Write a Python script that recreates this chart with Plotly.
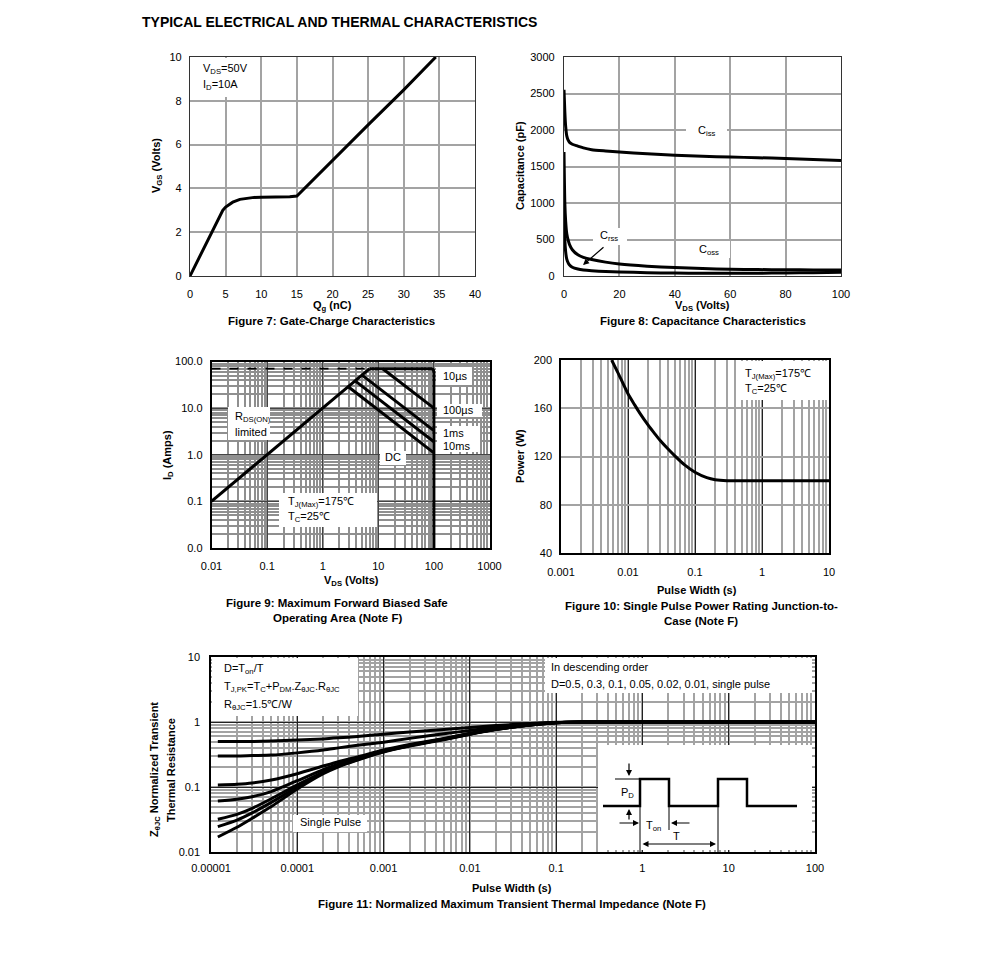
import plotly.graph_objects as go

W, H = 991, 977
OFF = 8  # page body margin of the rendered html
FONT = "Liberation Sans, Arial, sans-serif"

# ---------------- data ----------------
# Figure 7: gate charge
qg_nc = [0, 1, 2, 3, 4, 4.6, 5, 5.5, 6, 7, 8, 9, 10, 12, 14, 15, 17, 20, 25, 30, 34.5]
vgs_v = [0, 0.65, 1.3, 1.95, 2.6, 3.0, 3.15, 3.27, 3.37, 3.5, 3.56, 3.59, 3.6, 3.6, 3.62, 3.65, 4.3, 5.3, 6.9, 8.5, 10.0]

# Figure 8: capacitance
cap_vds = [0, 0.3, 0.6, 1, 1.5, 2, 3, 5, 7, 10, 15, 20, 30, 40, 50, 60, 70, 80, 90, 100]
ciss_pf = [2550, 2250, 2050, 1920, 1860, 1830, 1805, 1780, 1755, 1730, 1712, 1697, 1675, 1655, 1640, 1630, 1620, 1610, 1597, 1583]
coss_pf = [1700, 1000, 750, 580, 490, 430, 360, 290, 255, 225, 190, 165, 135, 115, 102, 93, 88, 85, 83, 82]
crss_pf = [1100, 500, 330, 230, 180, 150, 120, 95, 82, 72, 62, 55, 45, 40, 37, 36, 38, 42, 46, 50]

# Figure 9: safe operating area
rds_vds = [0.01, 7]
rds_id = [0.1, 70]
lim_vds = [0.01, 7]
lim_id = [70, 70]
us10_vds = [7, 92, 98, 100, 100]
us10_id = [70, 70, 66, 58, 0.01]
us100_vds = [12, 100]
us100_id = [70, 10]
ms1_vds = [5.1, 100]
ms1_id = [51, 3.3]
ms10_vds = [3.83, 100]
ms10_id = [38.3, 1.9]
dc_vds = [2.88, 100]
dc_id = [28.8, 1.1]

# Figure 10: single pulse power
pw_t = [0.0057, 0.007, 0.01, 0.0125, 0.015, 0.02, 0.025, 0.03, 0.04, 0.05, 0.07, 0.1, 0.15, 0.2, 0.3, 0.5, 1, 10]
pw_p = [200, 190, 172, 163, 156, 146, 139, 133.5, 126, 120.5, 113, 107, 102.5, 100.8, 100, 100, 100, 100]

# Figure 11: normalized transient thermal impedance
zt = [1.2e-5, 2e-5, 3e-5, 5e-5, 1e-4, 2e-4, 3e-4, 5e-4, 1e-3, 2e-3, 5e-3, 1e-2, 2e-2, 5e-2, 0.1, 0.2, 1, 10, 100]
z_d05 = [0.50, 0.50, 0.50, 0.51, 0.53, 0.55, 0.57, 0.60, 0.65, 0.70, 0.77, 0.82, 0.88, 0.95, 0.99, 1.0, 1.0, 1.0, 1.0]
z_d03 = [0.30, 0.30, 0.305, 0.31, 0.335, 0.37, 0.40, 0.44, 0.49, 0.56, 0.66, 0.74, 0.83, 0.93, 0.98, 1.0, 1.0, 1.0, 1.0]
z_d01 = [0.107, 0.11, 0.115, 0.128, 0.16, 0.21, 0.245, 0.29, 0.37, 0.45, 0.56, 0.67, 0.78, 0.91, 0.98, 1.0, 1.0, 1.0, 1.0]
z_d005 = [0.061, 0.065, 0.071, 0.085, 0.125, 0.185, 0.225, 0.28, 0.36, 0.44, 0.55, 0.66, 0.77, 0.90, 0.97, 1.0, 1.0, 1.0, 1.0]
z_d002 = [0.032, 0.038, 0.047, 0.066, 0.108, 0.17, 0.215, 0.27, 0.355, 0.435, 0.545, 0.655, 0.77, 0.90, 0.97, 1.0, 1.0, 1.0, 1.0]
z_d001 = [0.0245, 0.031, 0.040, 0.058, 0.10, 0.165, 0.21, 0.265, 0.35, 0.43, 0.54, 0.65, 0.77, 0.90, 0.97, 1.0, 1.0, 1.0, 1.0]
z_sp = [0.017, 0.024, 0.033, 0.05, 0.093, 0.16, 0.205, 0.26, 0.345, 0.425, 0.535, 0.645, 0.765, 0.90, 0.97, 1.0, 1.0, 1.0, 1.0]

# tick labels
f9_xticks = [0.01, 0.1, 1, 10, 100, 1000]
f9_xtext = ["0.01", "0.1", "1", "10", "100", "1000"]
f9_yticks = [0.01, 0.1, 1, 10, 100]
f9_ytext = ["0.0", "0.1", "1.0", "10.0", "100.0"]
f10_xticks = [0.001, 0.01, 0.1, 1, 10]
f10_xtext = ["0.001", "0.01", "0.1", "1", "10"]
f11_xticks = [1e-5, 1e-4, 1e-3, 1e-2, 0.1, 1, 10, 100]
f11_xtext = ["0.00001", "0.0001", "0.001", "0.01", "0.1", "1", "10", "100"]
f11_yticks = [0.01, 0.1, 1, 10]
f11_ytext = ["0.01", "0.1", "1", "10"]


def X(px):
    return (px - OFF) / W


def Y(py):
    return 1 - (py - OFF) / H


def dom_x(a, b):
    return [X(a), X(b)]


def dom_y(top, bottom):
    return [Y(bottom), Y(top)]


fig = go.Figure()
LW = 3


def line(x, y, ax, dash=None, width=LW, shape="linear"):
    fig.add_trace(go.Scatter(
        x=x, y=y, mode="lines", xaxis=ax[0], yaxis=ax[1],
        line=dict(color="black", width=width, dash=dash, shape=shape, smoothing=0.6),
        showlegend=False, hoverinfo="skip"))


# Fig 7
line(qg_nc, vgs_v, ("x", "y"))
# Fig 8
line(cap_vds, ciss_pf, ("x2", "y2"), shape="spline")
line(cap_vds, coss_pf, ("x2", "y2"), shape="spline")
line(cap_vds, crss_pf, ("x2", "y2"), shape="spline")
# Fig 9
line(lim_vds, lim_id, ("x3", "y3"), dash="dash", width=1.8)
line(rds_vds, rds_id, ("x3", "y3"))
line(us10_vds, us10_id, ("x3", "y3"))
line(us100_vds, us100_id, ("x3", "y3"))
line(ms1_vds, ms1_id, ("x3", "y3"))
line(ms10_vds, ms10_id, ("x3", "y3"))
line(dc_vds, dc_id, ("x3", "y3"))
# Fig 10
line(pw_t, pw_p, ("x4", "y4"), shape="spline")
# Fig 11
for zz in [z_d05, z_d03, z_d01, z_d005, z_d002, z_d001, z_sp]:
    line(zt, zz, ("x5", "y5"), shape="spline")

tickfont = dict(family=FONT, size=11, color="black")
GRID = "#a3a3a3"


def lin_axis(domain, rng, dtick, anchor, standoff):
    return dict(domain=domain, range=rng, dtick=dtick, anchor=anchor, automargin=False,
                showgrid=True, gridcolor=GRID, gridwidth=1.5, zeroline=False,
                showline=True, linecolor="#333", linewidth=1.2, mirror=True,
                ticks="", tickfont=tickfont, ticklabelstandoff=standoff, fixedrange=True)


def log_axis(domain, rng, tickvals, ticktext, anchor, standoff, majcolor="#222", mincolor=GRID):
    return dict(domain=domain, type="log", range=rng, anchor=anchor, automargin=False,
                tickmode="array", tickvals=tickvals, ticktext=ticktext,
                showgrid=True, gridcolor=majcolor, gridwidth=1, zeroline=False,
                minor=dict(dtick="D1", showgrid=True, gridcolor=mincolor, gridwidth=1.5, ticks=""),
                showline=True, linecolor="black", linewidth=1.5, mirror=True,
                ticks="", tickfont=tickfont, ticklabelstandoff=standoff, fixedrange=True)


layout = dict(
    width=W, height=H, margin=dict(l=0, r=0, t=0, b=0, autoexpand=False),
    paper_bgcolor="white", plot_bgcolor="white",
    font=dict(family=FONT, size=11, color="black"),
    showlegend=False,
    xaxis=lin_axis(dom_x(190, 475), [0, 40], 5, "y", 8),
    yaxis=lin_axis(dom_y(57, 276), [0, 10], 2, "x", 5),
    xaxis2=lin_axis(dom_x(564, 841), [0, 100], 20, "y2", 8),
    yaxis2=lin_axis(dom_y(57, 276), [0, 3000], 500, "x2", 6),
    xaxis3=log_axis(dom_x(211.5, 489.5), [-2, 3], f9_xticks, f9_xtext, "y3", 7, "#444", "#8f8f8f"),
    yaxis3=log_axis(dom_y(361.5, 548), [-2, 2], f9_yticks, f9_ytext, "x3", 5, "#444", "#8f8f8f"),
    xaxis4=log_axis(dom_x(561, 829), [-3, 1], f10_xticks, f10_xtext, "y4", 8),
    yaxis4=lin_axis(dom_y(360, 553), [40, 200], 40, "x4", 5),
    xaxis5=log_axis(dom_x(211, 815), [-5, 2], f11_xticks, f11_xtext, "y5", 5),
    yaxis5=log_axis(dom_y(657, 852), [-2, 1], f11_yticks, f11_ytext, "x5", 7),
)
layout["yaxis4"]["linecolor"] = "black"
layout["yaxis4"]["linewidth"] = 1.5
fig.update_layout(**layout)

shapes = []


def box(x0, y0, x1, y1):
    shapes.append(dict(type="rect", xref="paper", yref="paper",
                       x0=X(x0), x1=X(x1), y0=Y(y1), y1=Y(y0),
                       fillcolor="white", line=dict(width=0), layer="above"))


def seg(x0, y0, x1, y1, w=1):
    shapes.append(dict(type="line", xref="paper", yref="paper",
                       x0=X(x0), x1=X(x1), y0=Y(y0), y1=Y(y1),
                       line=dict(color="black", width=w), layer="above"))


# label boxes
box(191, 58, 249, 97)
box(686, 123, 727, 139)
box(688, 241, 730, 258)
box(593, 228, 627, 245)
box(436, 367, 472, 385)
box(437, 404, 482, 417)
box(437, 426, 480, 452)
box(380, 451, 406, 465)
box(228, 407, 270, 440)
box(279, 493, 377, 527)
box(737, 361, 828, 400)
box(212, 658, 358, 716)
box(545, 658, 812, 693)
box(293, 815, 367, 832)
# inset of fig 11
box(598, 745, 812, 850)

# pulse waveform
wave = [(603, 806), (640, 806), (640, 779), (669, 779), (669, 806), (718, 806),
        (718, 779), (747, 779), (747, 806), (797, 806)]
path = "M " + " L ".join(f"{X(a):.5f},{Y(b):.5f}" for a, b in wave)
shapes.append(dict(type="path", path=path, xref="paper", yref="paper",
                   line=dict(color="black", width=2.5), layer="above"))
seg(615, 779, 640, 779)
seg(640, 779, 640, 852)
seg(669, 806, 669, 830)
seg(718, 806, 718, 852)

fig.update_layout(shapes=shapes)

ann = []


def txt(s, x, y, xanchor="left", size=11, bold=False, angle=0, align="left"):
    if bold:
        s = "<b>" + s + "</b>"
    ann.append(dict(text=s, x=X(x), y=Y(y), xref="paper", yref="paper",
                    xanchor=xanchor, yanchor="middle", showarrow=False,
                    textangle=angle, align=align,
                    font=dict(family=FONT, size=size, color="black")))


def arrow(hx, hy, ax, ay, side="end"):
    ann.append(dict(text="", x=X(hx), y=Y(hy), xref="paper", yref="paper",
                    ax=ax, ay=ay, showarrow=True, arrowhead=2, arrowsize=1,
                    arrowwidth=1.2, arrowcolor="black", arrowside=side))


CAP = 11.5

# title
txt("TYPICAL ELECTRICAL AND THERMAL CHARACTERISTICS", 140, 22, size=14, bold=True)

# Fig 7
txt("V<sub>DS</sub>=50V", 201, 69)
txt("I<sub>D</sub>=10A", 201, 85)
txt("Q<sub>g</sub> (nC)", 332, 306, "center", bold=True)
txt("V<sub>GS</sub> (Volts)", 157, 166, "center", bold=True, angle=-90)
txt("Figure 7: Gate-Charge Characteristics", 331, 321, "center", size=CAP, bold=True)

# Fig 8
txt("C<sub>iss</sub>", 707, 131, "center")
txt("C<sub>oss</sub>", 709, 250, "center")
txt("C<sub>rss</sub>", 609, 236, "center")
arrow(583, 265, 22, -19)
txt("V<sub>DS</sub> (Volts)", 702, 306, "center", bold=True)
txt("Capacitance (pF)", 520, 166, "center", bold=True, angle=-90)
txt("Figure 8: Capacitance Characteristics", 703, 321, "center", size=CAP, bold=True)

# Fig 9
txt("10µs", 441, 376)
txt("100µs", 441, 410)
txt("1ms", 441, 433)
txt("10ms", 441, 446)
txt("DC", 393, 457, "center")
txt("R<sub>DS(ON)</sub>", 233, 417)
txt("limited", 233, 432)
txt("T<sub>J(Max)</sub>=175℃", 286, 502)
txt("T<sub>C</sub>=25℃", 286, 517)
txt("V<sub>DS</sub> (Volts)", 351, 581, "center", bold=True)
txt("I<sub>D</sub> (Amps)", 168, 455, "center", bold=True, angle=-90)
txt("Figure 9: Maximum Forward Biased Safe", 337, 603, "center", size=CAP, bold=True)
txt("Operating Area (Note F)", 337, 618, "center", size=CAP, bold=True)

# Fig 10
txt("T<sub>J(Max)</sub>=175℃", 743, 374)
txt("T<sub>C</sub>=25℃", 743, 389)
txt("Pulse Width (s)", 697, 590, "center", bold=True)
txt("Power (W)", 520, 456, "center", bold=True, angle=-90)
txt("Figure 10: Single Pulse Power Rating Junction-to-", 701, 606, "center", size=CAP, bold=True)
txt("Case (Note F)", 701, 621, "center", size=CAP, bold=True)

# Fig 11
txt("D=T<sub>on</sub>/T", 222, 669)
txt("T<sub>J,PK</sub>=T<sub>C</sub>+P<sub>DM</sub>.Z<sub>θJC</sub>.R<sub>θJC</sub>", 222, 687)
txt("R<sub>θJC</sub>=1.5℃/W", 222, 705)
txt("In descending order", 549, 667)
txt("D=0.5, 0.3, 0.1, 0.05, 0.02, 0.01, single pulse", 549, 684)
txt("Single Pulse", 330, 822, "center")
txt("P<sub>D</sub>", 627, 793, "center")
txt("T<sub>on</sub>", 653, 826, "center")
txt("T", 676, 836, "center")
arrow(629, 776, 0, -14)
arrow(629, 809, 0, 12)
arrow(639, 823, -21, 0)
arrow(671, 823, 20, 0)
arrow(716, 844, -75, 0, side="end+start")
txt("Pulse Width (s)", 512, 888, "center", bold=True)
txt("Z<sub>θJC</sub> Normalized Transient", 155, 770, "center", bold=True, angle=-90)
txt("Thermal Resistance", 171, 770, "center", bold=True, angle=-90)
txt("Figure 11: Normalized Maximum Transient Thermal Impedance (Note F)", 512, 904, "center", size=CAP, bold=True)

fig.update_layout(annotations=ann)
fig.write_html("out.html")
